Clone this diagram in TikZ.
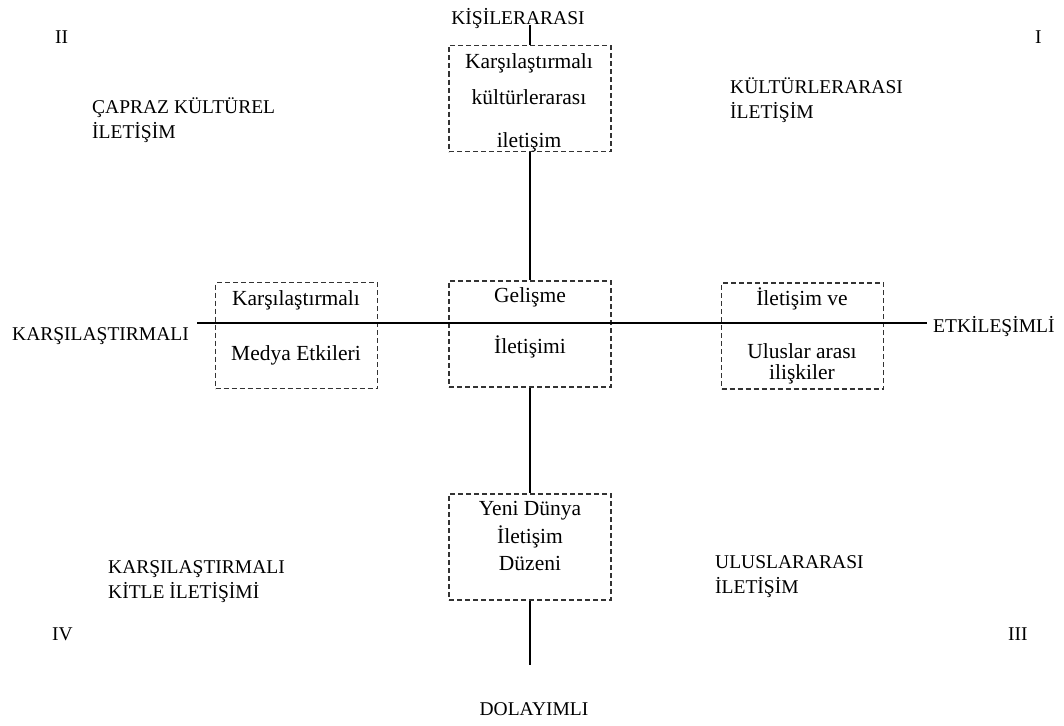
\documentclass[tikz,border=0pt]{standalone}
\usepackage{fontspec}
\setmainfont{Liberation Serif}
\usetikzlibrary{positioning}

\begin{document}
\begin{tikzpicture}[
    x=1pt, y=-1pt,
    every node/.style={align=center, inner sep=0pt},
    caps/.style={font=\fontsize{19.5}{24.5}\selectfont},
    txt/.style={font=\fontsize{21.5}{26}\selectfont},
    dbox/.style={draw=black!80, dash pattern=on 5pt off 3pt, line width=1.2pt,
                 minimum width=162pt, minimum height=106pt},
    axis/.style={line width=1.1pt}
]
\useasboundingbox (0,0) rectangle (1064,725);

% kutular
\node[dbox] (topbox) at (530,98.5) {};
\node[dbox] (midbox) at (530,334) {};
\node[dbox] (lowbox) at (530,547) {};
\node[dbox] (leftbox) at (296.5,335.5) {};
\node[dbox] (rightbox) at (802.5,336) {};

% eksenler
\coordinate (up) at (530,25);
\coordinate (down) at (530,665);
\coordinate (west) at (197,323);
\coordinate (east) at (927,323);
\draw[axis] (up) -- (topbox.north);
\draw[axis] (topbox.south) -- (midbox.north);
\draw[axis] (midbox.south) -- (lowbox.north);
\draw[axis] (lowbox.south) -- (down);
\draw[axis] (west) -- (east);

% eksen uçları
\node[caps, anchor=base] (kisi) at (518,25) {KİŞİLERARASI};
\node[caps, anchor=base] (dolay) at (534,715) {DOLAYIMLI};
\node[caps, anchor=base west] (karsi) at (12,340) {KARŞILAŞTIRMALI};
\node[caps, anchor=base west] (etki) at (933,332) {ETKİLEŞİMLİ};

% bölge numaraları
\node[caps, anchor=base west] (q2) at (55,44) {II};
\node[caps, anchor=base west] (q1) at (1035,44) {I};
\node[caps, anchor=base west] (q4) at (52,640) {IV};
\node[caps, anchor=base west] (q3) at (1008,640) {III};

% bölge adları (base = son satır)
\node[caps, anchor=base west, align=left] (capraz) at (92,138) {ÇAPRAZ KÜLTÜREL\\İLETİŞİM};
\node[caps, anchor=base west, align=left] (kultur) at (730,118) {KÜLTÜRLERARASI\\İLETİŞİM};
\node[caps, anchor=base west, align=left] (kitle) at (108,598) {KARŞILAŞTIRMALI\\KİTLE İLETİŞİMİ};
\node[caps, anchor=base west, align=left] (ulus) at (715,593) {ULUSLARARASI\\İLETİŞİM};

% kutu yazıları
\node[txt, anchor=base] (t1) at (529,68) {Karşılaştırmalı};
\node[txt, anchor=base] (t2) at (529,104) {kültürlerarası};
\node[txt, anchor=base] (t3) at (529,147) {iletişim};
\node[txt, anchor=base] (m1) at (530,302) {Gelişme};
\node[txt, anchor=base] (m2) at (530,353) {İletişimi};
\node[txt, anchor=base] (l1) at (296,305) {Karşılaştırmalı};
\node[txt, anchor=base] (l2) at (296,360) {Medya Etkileri};
\node[txt, anchor=base] (r1) at (802,305) {İletişim ve};
\node[txt, anchor=base] (r2) at (802,358) {Uluslar arası};
\node[txt, anchor=base] (r3) at (802,379) {ilişkiler};
\node[txt, anchor=base] (y1) at (530,515) {Yeni Dünya};
\node[txt, anchor=base] (y2) at (530,543) {İletişim};
\node[txt, anchor=base] (y3) at (530,570) {Düzeni};

\end{tikzpicture}
\end{document}
